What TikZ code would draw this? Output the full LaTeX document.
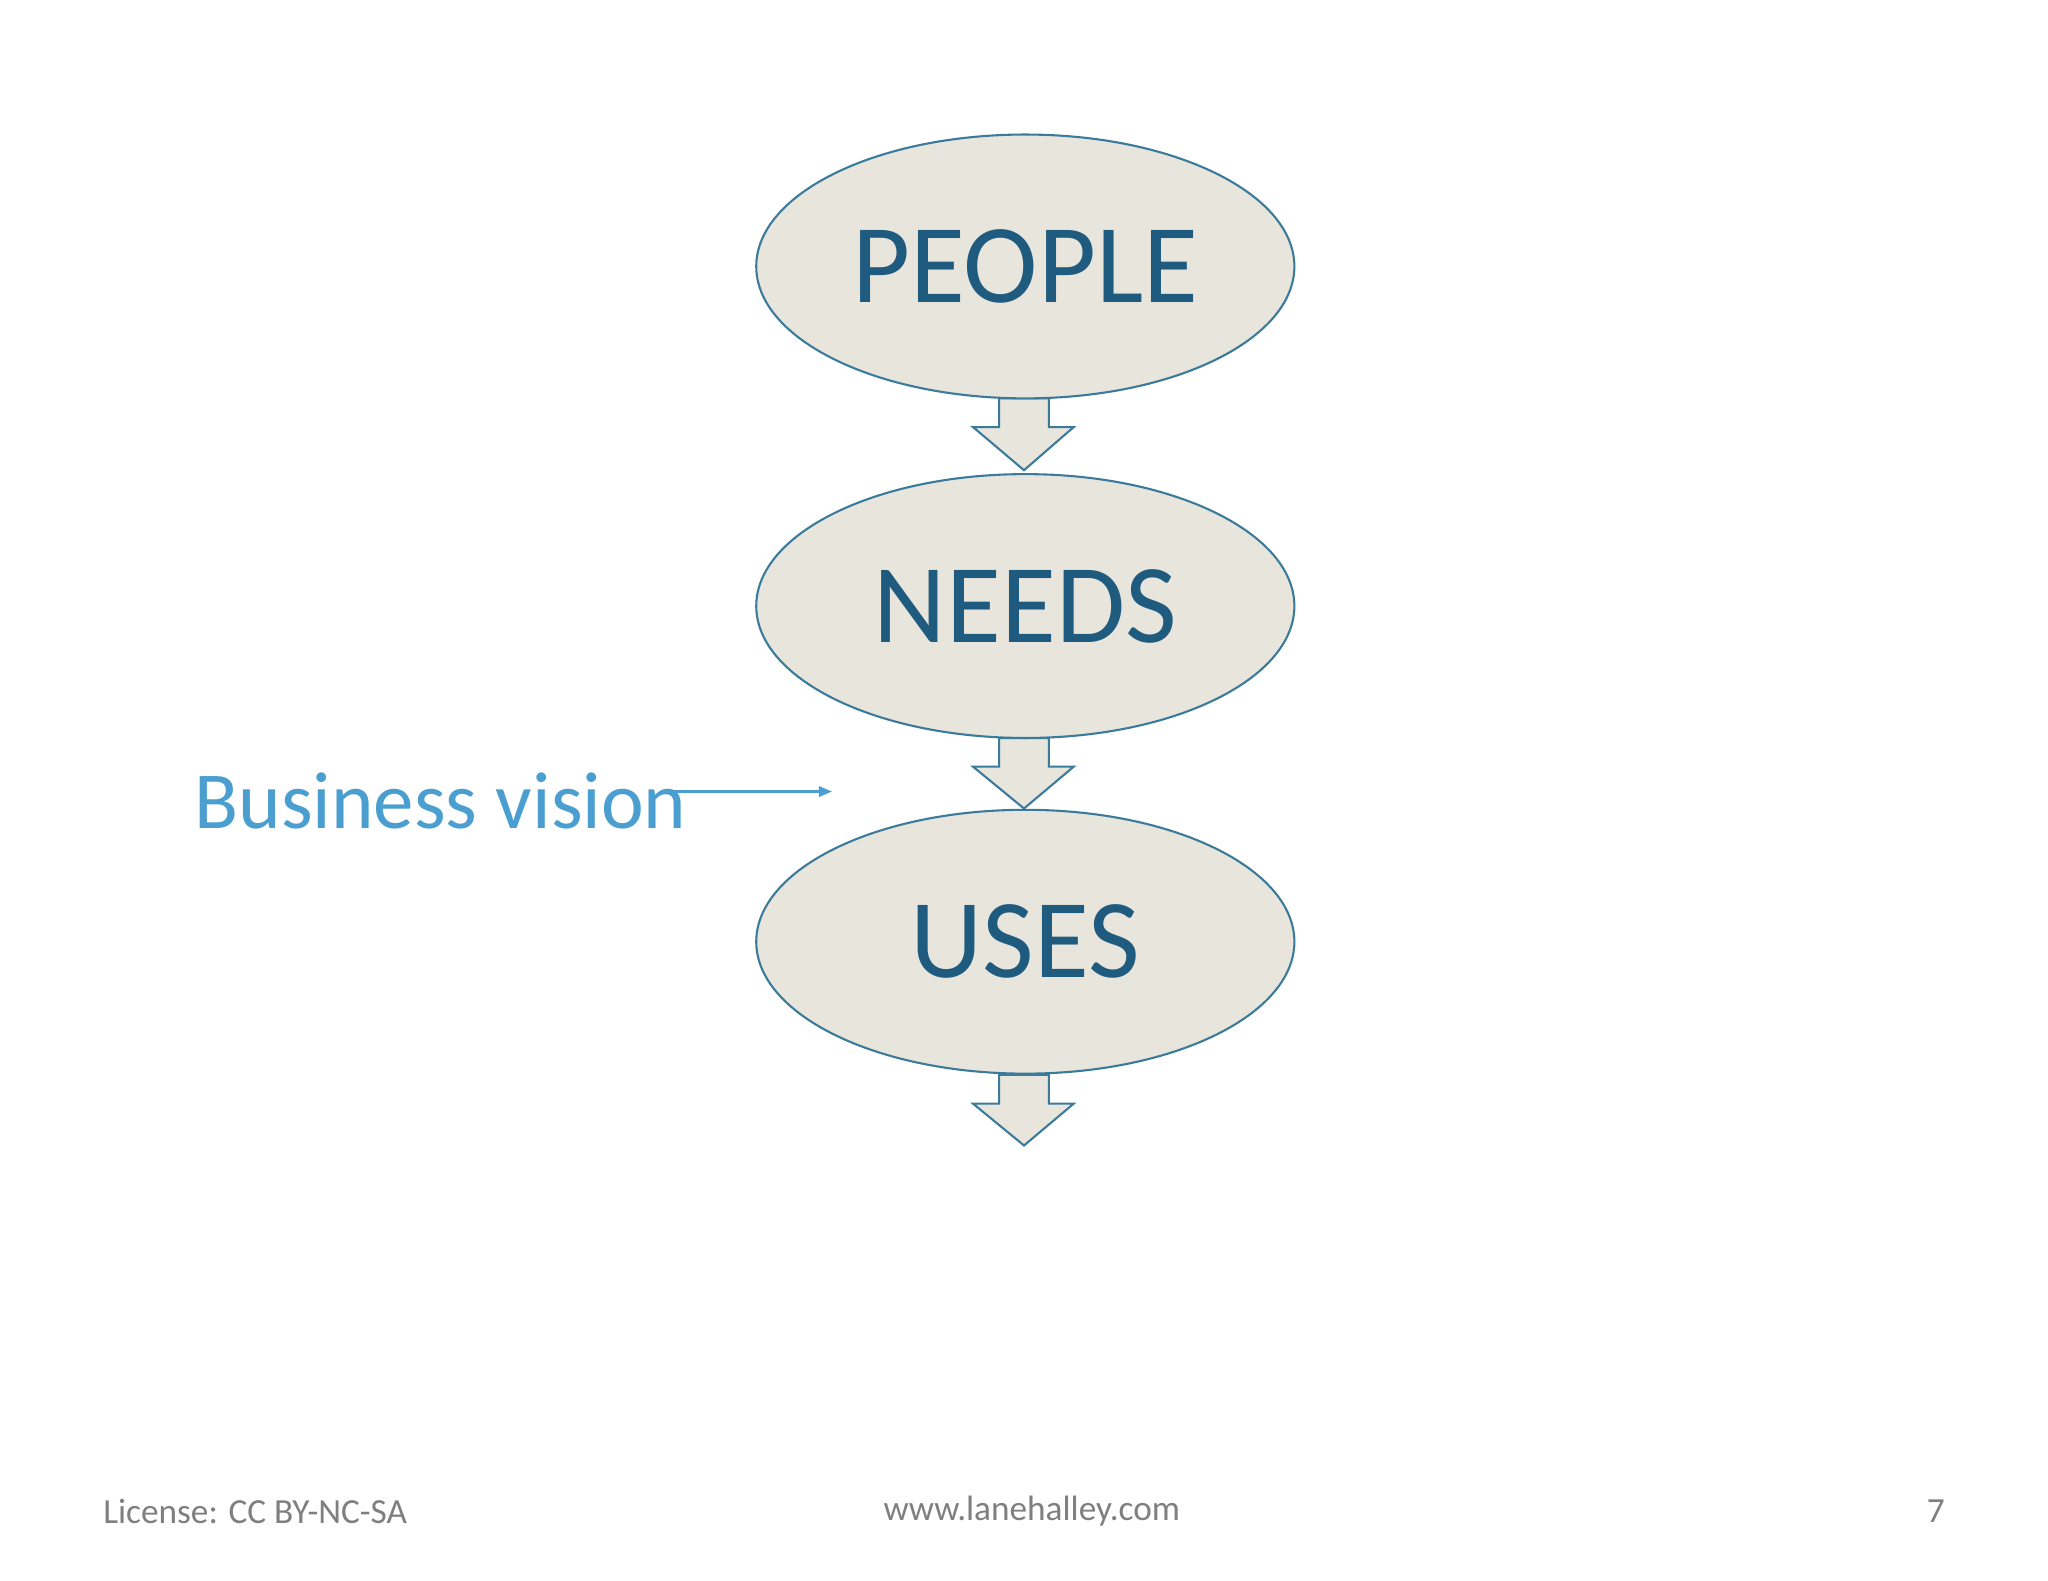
\documentclass[tikz,border=0pt]{standalone}
\usepackage{fontspec}
\setmainfont{Carlito}
\usetikzlibrary{shapes.geometric,arrows.meta}
\definecolor{txtblue}{HTML}{1F5A7F}
\definecolor{edge}{HTML}{3A7A9A}
\definecolor{fillc}{HTML}{E8E5DC}
\definecolor{lblue}{HTML}{4A9FD0}
\definecolor{foot}{HTML}{7F7F7F}
\begin{document}
\begin{tikzpicture}[x=0.5pt,y=-0.5pt,
  oval/.style={ellipse,draw=edge,line width=0.8pt,fill=fillc,minimum width=206pt,minimum height=101pt,inner sep=0pt,font=\fontsize{43}{43}\selectfont,text=txtblue},
  blockarrow/.style={draw=edge,line width=0.8pt,fill=fillc,line join=miter}]
\useasboundingbox (0,0) rectangle (1568,1210);
\fill[white] (0,0) rectangle (1568,1210);
\newcommand\barrow[2]{\draw[blockarrow] (765,#1) -- (803,#1) -- (803,#1+22) -- (822,#1+22) -- (784,#2) -- (745,#1+22) -- (765,#1+22) -- cycle;}
\barrow{305}{360}
\barrow{565}{619}
\barrow{823}{877}
\node[oval] (people) at (785,204) {PEOPLE};
\node[oval] (needs) at (785,464) {NEEDS};
\node[oval] (uses) at (785,721) {USES};
\node[anchor=west,text=lblue,font=\fontsize{31}{31}\selectfont] (bv) at (142,613) {Business vision};
\coordinate (bvend) at (637,606);
\draw[lblue,line width=0.8pt,-{Triangle[length=5pt,width=4pt]}] (508,606) -- (bvend);
\node[anchor=west,text=foot,font=\fontsize{13.5}{14}\selectfont] (lic) at (72,1157) {License: CC BY-NC-SA};
\node[text=foot,font=\fontsize{13.5}{14}\selectfont] (web) at (790,1157) {www.lanehalley.com};
\node[anchor=east,text=foot,font=\fontsize{13.5}{14}\selectfont] (pg) at (1496,1157) {7};
\end{tikzpicture}
\end{document}
